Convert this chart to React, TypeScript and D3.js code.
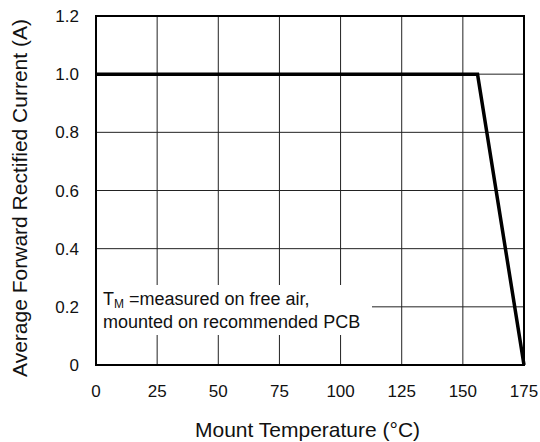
import React from "react";
import * as d3 from "d3";

const xTicks = [0, 25, 50, 75, 100, 125, 150, 175];
const yTicks = [0, 0.2, 0.4, 0.6, 0.8, 1.0, 1.2];
const yTickLabels = ["0", "0.2", "0.4", "0.6", "0.8", "1.0", "1.2"];
const temps = [0, 156, 175];
const currents = [1.0, 1.0, 0];

const W = 540, H = 442;
const left = 96, right = 524, top = 16, bottom = 365;

export default function App() {
  const x = d3.scaleLinear().domain([0, 175]).range([left, right]);
  const y = d3.scaleLinear().domain([0, 1.2]).range([bottom, top]);
  const pts = temps.map((t, i) => [x(t), y(currents[i])] as [number, number]);
  const line = d3.line()(pts) || "";
  const font = "Liberation Sans, Arial, Helvetica, sans-serif";
  return (
    <svg width={W} height={H} style={{ position: "absolute", left: 0, top: 0, background: "#fff" }} fontFamily={font}>
      {xTicks.slice(1, -1).map((t) => (
        <line key={"gx" + t} x1={x(t)} x2={x(t)} y1={top} y2={bottom} stroke="#222" strokeWidth={1} />
      ))}
      {yTicks.slice(1, -1).map((t) => (
        <line key={"gy" + t} x1={left} x2={right} y1={y(t)} y2={y(t)} stroke="#222" strokeWidth={1} />
      ))}
      <rect x={97} y={285} width={275} height={50} fill="#fff" />
      <text x={103} y={305} fontSize={18} fill="#111">
        T<tspan fontSize={12} dy={3}>M</tspan>
        <tspan dy={-3}> =measured on free air,</tspan>
      </text>
      <text x={103} y={328} fontSize={18} fill="#111">mounted on recommended PCB</text>
      <rect x={left} y={top} width={right - left} height={bottom - top} fill="none" stroke="#000" strokeWidth={2} />
      <path d={line} fill="none" stroke="#000" strokeWidth={3.5} strokeLinejoin="miter" />
      {yTicks.map((t, i) => (
        <text key={"yl" + t} x={79} y={y(t)} dy="0.36em" textAnchor="end" fontSize={17} fill="#111">
          {yTickLabels[i]}
        </text>
      ))}
      {xTicks.map((t) => (
        <text key={"xl" + t} x={x(t)} y={397} textAnchor="middle" fontSize={17} fill="#111">
          {t}
        </text>
      ))}
      <text x={307.5} y={437} textAnchor="middle" fontSize={21} fill="#111">
        Mount Temperature (°C)
      </text>
      <text transform={`translate(27, 198) rotate(-90)`} textAnchor="middle" fontSize={21} fill="#111">
        Average Forward Rectified Current (A)
      </text>
    </svg>
  );
}
